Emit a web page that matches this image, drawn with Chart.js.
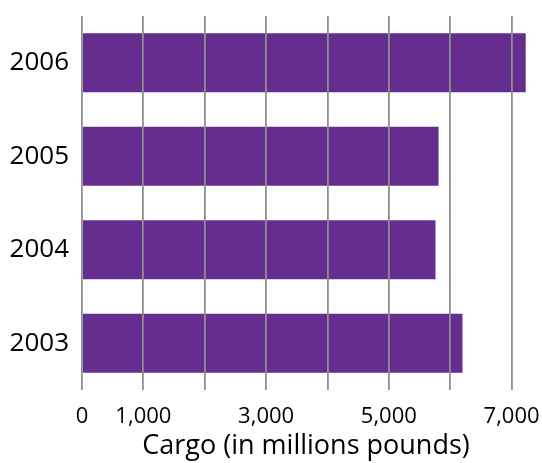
<html>
  <head>
    <meta charset="utf-8" />
    <title>Cargo</title>
    <style>
      body { margin: 0; background: #fff; }
      #box { width: 542px; height: 463px; }
    </style>
  </head>
  <body>
    <div id="box">
      <canvas id="canvasBar"></canvas>
    </div>

    <script src="https://cdn.jsdelivr.net/npm/chart.js"></script>
    <script>
      // years, top to bottom
      var years = ["2006", "2005", "2004", "2003"];
      // cargo in millions of pounds
      var cargo = [7230, 5810, 5760, 6200];
      // grid every 1000, label only these
      var gridValues = [0, 1000, 2000, 3000, 4000, 5000, 6000, 7000];
      var labelValues = [0, 1000, 3000, 5000, 7000];

      var ctx = document.getElementById("canvasBar").getContext("2d");
      var barChart = new Chart(ctx, {
        type: "bar",
        data: {
          labels: years,
          datasets: [
            {
              label: "Cargo",
              data: cargo,
              backgroundColor: "#662d91",
              categoryPercentage: 1,
              barPercentage: 0.63,
            },
          ],
        },
        options: {
          indexAxis: "y",
          responsive: true,
          maintainAspectRatio: false,
          animation: false,
          layout: { padding: { top: 16, right: 12, left: 0, bottom: 0 } },
          plugins: {
            legend: { display: false },
            tooltip: { enabled: false },
          },
          scales: {
            x: {
              min: 0,
              max: 7300,
              afterBuildTicks: function (axis) {
                axis.ticks = gridValues.map(function (v) {
                  return { value: v };
                });
              },
              afterFit: function (axis) {
                axis.height = 73;
                // no extra room for the end labels
                axis.paddingLeft = 0;
                axis.paddingRight = 0;
              },
              border: { display: false },
              // grid lines go over the bars
              grid: {
                z: 1,
                color: "#8f8f8f",
                lineWidth: 1.8,
                drawTicks: false,
              },
              ticks: {
                padding: 14,
                autoSkip: false,
                maxRotation: 0,
                minRotation: 0,
                color: "#000",
                font: { family: "'Open Sans'", size: 22 },
                callback: function (v) {
                  return labelValues.indexOf(v) >= 0 ? v.toLocaleString("en-US") : "";
                },
              },
              title: {
                display: true,
                text: "Cargo (in millions pounds)",
                color: "#000",
                font: { family: "'Open Sans'", size: 27 },
                padding: { top: 0, bottom: 0 },
              },
            },
            y: {
              afterFit: function (axis) {
                axis.width = 82;
                axis.paddingTop = 0;
                axis.paddingBottom = 0;
              },
              border: { display: false },
              grid: { display: false, drawTicks: false },
              ticks: {
                padding: 13,
                color: "#000",
                font: { family: "'Open Sans'", size: 26 },
              },
            },
          },
        },
      });
    </script>
  </body>
</html>
